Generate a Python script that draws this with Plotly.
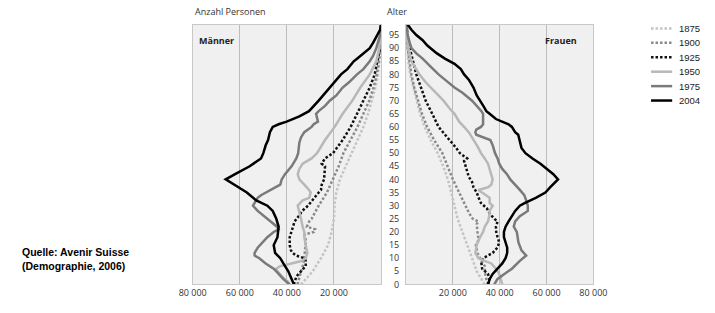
import plotly.graph_objects as go

years = ["1875", "1900", "1925", "1950", "1975", "2004"]
colors = ["#c3c3c3", "#8a8a8a", "#111111", "#b8b8b8", "#7a7a7a", "#000000"]
dashes = ["2.5px,2px", "2.5px,2px", "2.5px,2px", "solid", "solid", "solid"]

age_ticks = list(range(0, 100, 5))
count_ticks = [20000, 40000, 60000, 80000]
count_labels = ["20 000", "40 000", "60 000", "80 000"]

# ---- Männer ----
m1875_age = [0, 3, 5, 8, 10, 15, 20, 25, 30, 35, 40, 45, 50, 55, 60, 65, 70, 75, 80, 85, 90, 95, 99]
m1875 = [34000, 31000, 29000, 27000, 25500, 22500, 21000, 20000, 19800, 19000, 17500, 15000, 12500, 10000, 7500, 5500, 3800, 2400, 1300, 600, 200, 50, 0]

m1900_age = [0, 2, 4, 7, 10, 14, 17, 19, 20, 21, 22, 24, 25, 30, 35, 40, 45, 50, 55, 60, 65, 70, 75, 80, 85, 90, 95, 99]
m1900 = [35500, 35000, 34300, 33300, 32600, 32200, 32000, 32500, 28500, 28000, 31500, 30500, 29500, 26500, 23000, 20500, 18000, 16000, 13000, 10000, 7500, 5000, 3200, 1800, 900, 300, 50, 0]

m1925_age = [0, 1, 3, 5, 7, 9, 10, 11, 12, 13, 15, 18, 20, 22, 24, 26, 28, 30, 33, 35, 36, 38, 40, 43, 45, 46, 48, 50, 55, 60, 65, 70, 75, 80, 85, 90, 95, 99]
m1925 = [37000, 36700, 36000, 34000, 32000, 32000, 32600, 36000, 37500, 38300, 38800, 38800, 38000, 37400, 36700, 35000, 33500, 31000, 28500, 26500, 25500, 25200, 24200, 24000, 23800, 25200, 23800, 20400, 16300, 12900, 10200, 7500, 4800, 2700, 1400, 400, 100, 0]

m1950_age = [0, 1, 3, 5, 6, 7, 8, 9, 10, 12, 15, 18, 20, 22, 25, 28, 30, 32, 33, 35, 36, 38, 40, 42, 44, 46, 48, 50, 52, 55, 60, 65, 70, 75, 80, 85, 90, 95, 99]
m1950 = [38800, 39500, 42000, 44000, 44500, 42800, 38000, 33500, 32000, 31300, 32000, 32600, 32600, 33300, 34000, 34700, 35400, 33300, 30500, 29900, 30600, 32600, 34700, 35400, 34700, 33300, 29500, 27200, 25800, 23800, 19700, 16300, 12200, 8800, 4800, 2000, 700, 100, 0]

m1975_age = [0, 2, 4, 6, 8, 10, 11, 12, 14, 16, 18, 20, 21, 22, 24, 26, 28, 30, 31, 33, 34, 36, 38, 40, 42, 45, 48, 50, 52, 54, 56, 58, 60, 61, 62, 63, 65, 66, 68, 70, 72, 75, 77, 80, 82, 85, 87, 90, 92, 95, 99]
m1975 = [38800, 41500, 43500, 45600, 49000, 51700, 53700, 53700, 52400, 50300, 48300, 45600, 43500, 44200, 47000, 49600, 52400, 54400, 53700, 52400, 51000, 46900, 42800, 42200, 40800, 38000, 36000, 35200, 35000, 34700, 34000, 32600, 29500, 28600, 26800, 27000, 27600, 26500, 23800, 21800, 19000, 16300, 13600, 10200, 7500, 4800, 3400, 2000, 1400, 400, 0]

m2004_age = [0, 2, 5, 8, 10, 12, 15, 18, 20, 22, 25, 28, 30, 32, 35, 38, 40, 42, 45, 48, 50, 53, 55, 58, 60, 61, 62, 64, 66, 70, 75, 80, 82, 85, 86, 88, 90, 92, 95, 97, 99]
m2004 = [37000, 38000, 39400, 41500, 42800, 45000, 45600, 44000, 43800, 43500, 44500, 46000, 48300, 53000, 57000, 62600, 66000, 62000, 55800, 51000, 50000, 49000, 48000, 47200, 46000, 43500, 40100, 34700, 30600, 26500, 21800, 17000, 14300, 11600, 10200, 7500, 4800, 3400, 1400, 400, 0]

# ---- Frauen ----
f1875_age = [0, 5, 10, 15, 20, 25, 30, 35, 40, 45, 50, 55, 60, 65, 70, 75, 80, 85, 90, 95, 99]
f1875 = [33600, 30200, 28200, 26100, 24100, 22000, 20700, 19300, 17900, 15900, 13500, 10500, 8000, 6000, 4500, 3000, 1800, 1000, 500, 200, 0]

f1900_age = [0, 2, 5, 7, 10, 12, 15, 17, 20, 23, 24, 25, 27, 30, 35, 40, 45, 50, 55, 60, 65, 70, 75, 80, 85, 90, 95, 99]
f1900 = [35000, 34300, 33600, 33600, 31600, 30500, 29800, 31000, 30500, 30200, 30900, 28500, 27000, 25500, 22700, 20000, 17900, 15500, 12000, 9000, 6800, 5000, 3500, 2300, 1400, 700, 200, 0]

f1925_age = [0, 2, 4, 6, 8, 10, 11, 12, 14, 16, 18, 20, 22, 24, 25, 27, 29, 31, 33, 35, 37, 39, 41, 43, 45, 47, 48, 50, 52, 55, 60, 65, 70, 75, 80, 85, 90, 95, 99]
f1925 = [35000, 35700, 35000, 32500, 32200, 32900, 35000, 37000, 39000, 39800, 39100, 38500, 38400, 39100, 37700, 35700, 34500, 32000, 31000, 30200, 28800, 28200, 26800, 26100, 25500, 24800, 26100, 23000, 21400, 18600, 13900, 11200, 8400, 6400, 4400, 3000, 1600, 700, 0]

f1950_age = [0, 2, 4, 6, 8, 9, 10, 12, 15, 18, 20, 22, 24, 26, 28, 30, 31, 33, 35, 36, 37, 38, 40, 42, 44, 46, 48, 50, 52, 55, 58, 60, 62, 65, 67, 70, 72, 75, 77, 80, 82, 85, 90, 95, 99]
f1950 = [41100, 40500, 39800, 38400, 36400, 33600, 30900, 29600, 30200, 31600, 32900, 33600, 35000, 35500, 35700, 37000, 35700, 35700, 32200, 30900, 35000, 36400, 37000, 36400, 35700, 35000, 33600, 32000, 30900, 28800, 26800, 24800, 22700, 20700, 18600, 16000, 13900, 10500, 8400, 5700, 4400, 2300, 1000, 300, 0]

f1975_age = [0, 2, 4, 6, 9, 11, 13, 16, 20, 22, 24, 26, 28, 30, 32, 34, 36, 38, 40, 42, 44, 46, 48, 50, 53, 55, 56, 57, 58, 59, 60, 61, 63, 65, 66, 68, 70, 73, 75, 78, 80, 83, 85, 86, 88, 90, 92, 95, 99]
f1975 = [37700, 39000, 42000, 45200, 48600, 51300, 49300, 48000, 47300, 46000, 46600, 48600, 52000, 52000, 51300, 50500, 48600, 46600, 44500, 43100, 41100, 39800, 39100, 38000, 37000, 36000, 33000, 30000, 29600, 30000, 32000, 32900, 32900, 32900, 32200, 30200, 28200, 24100, 20700, 16600, 13900, 10500, 8400, 7100, 4400, 2300, 1600, 700, 300]

f2004_age = [0, 2, 4, 6, 8, 10, 12, 14, 16, 18, 20, 22, 24, 26, 28, 30, 31, 33, 35, 37, 39, 40, 42, 44, 46, 48, 50, 52, 55, 57, 58, 60, 61, 62, 63, 65, 66, 68, 70, 72, 75, 78, 80, 82, 84, 85, 86, 88, 90, 91, 93, 95, 97, 99]
f2004 = [35000, 35700, 37000, 39100, 41100, 42500, 43200, 43200, 42500, 41800, 41800, 42500, 43800, 45200, 46600, 48600, 50600, 55400, 59500, 61500, 63500, 64900, 62900, 60100, 57400, 54000, 51000, 49300, 48600, 47900, 46600, 45200, 43800, 41100, 38400, 35700, 34300, 33000, 31600, 30200, 28800, 26800, 24800, 23400, 20700, 18600, 16600, 13200, 10500, 9100, 7100, 4400, 2300, 700]

men = [(m1875_age, m1875), (m1900_age, m1900), (m1925_age, m1925),
       (m1950_age, m1950), (m1975_age, m1975), (m2004_age, m2004)]
women = [(f1875_age, f1875), (f1900_age, f1900), (f1925_age, f1925),
         (f1950_age, f1950), (f1975_age, f1975), (f2004_age, f2004)]

W, H = 715, 313
def px(x):
    return x / W
def py(y):
    return (H - y) / H

fig = go.Figure()
for i, yr in enumerate(years):
    a, v = men[i]
    fig.add_trace(go.Scatter(x=v, y=a, mode="lines", name=yr, xaxis="x", yaxis="y",
                             line=dict(color=colors[i], width=2.5, dash=dashes[i]),
                             showlegend=False, hoverinfo="skip"))
    a, v = women[i]
    fig.add_trace(go.Scatter(x=v, y=a, mode="lines", name=yr, xaxis="x2", yaxis="y2",
                             line=dict(color=colors[i], width=2.5, dash=dashes[i]),
                             showlegend=False, hoverinfo="skip"))

axfont = dict(family="Open Sans", size=9, color="#333333")
common_x = dict(showgrid=True, gridcolor="#bcbcbc", gridwidth=1, zeroline=False,
                showline=True, linecolor="#c8c8c8", linewidth=1, mirror=True,
                tickmode="array", tickvals=count_ticks, ticktext=count_labels,
                tickfont=axfont, ticks="", fixedrange=True)
common_y = dict(range=[0, 99], showgrid=False, zeroline=False, showline=True,
                linecolor="#c8c8c8", linewidth=1, mirror=True, fixedrange=True)

ybot, ytop = py(290), py(25)
fig.update_layout(
    width=W, height=H, margin=dict(l=0, r=0, t=0, b=0), autosize=False,
    paper_bgcolor="white", plot_bgcolor="#eff0ef",
    showlegend=False,
    xaxis=dict(domain=[px(186), px(382)], range=[80000, 0], anchor="y", **common_x),
    yaxis=dict(domain=[ybot, ytop], anchor="x", showticklabels=False, **common_y),
    xaxis2=dict(domain=[px(408), px(603)], range=[0, 80000], anchor="y2", **common_x),
    yaxis2=dict(domain=[ybot, ytop], anchor="x2", tickmode="array", tickvals=age_ticks,
                ticktext=[str(t) for t in age_ticks], tickfont=axfont, ticks="",
                ticklabelstandoff=4, **common_y),
)

ann = []
ann.append(dict(x=px(186), y=py(12), xref="paper", yref="paper", text="Anzahl Personen",
                showarrow=False, xanchor="left", yanchor="middle", font=axfont))
ann.append(dict(x=px(386), y=py(12), xref="paper", yref="paper", text="Alter",
                showarrow=False, xanchor="left", yanchor="middle", font=axfont))
ann.append(dict(x=px(190), y=py(41), xref="paper", yref="paper", text="<b>Männer</b>",
                showarrow=False, xanchor="left", yanchor="middle",
                font=dict(family="Open Sans", size=9, color="#222222")))
ann.append(dict(x=px(588), y=py(41), xref="paper", yref="paper", text="<b>Frauen</b>",
                showarrow=False, xanchor="right", yanchor="middle",
                font=dict(family="Open Sans", size=9, color="#222222")))
srcfont = dict(family="Liberation Sans", size=10.5, color="#000000")
ann.append(dict(x=px(6), y=py(257), xref="paper", yref="paper",
                text="<b>Quelle: Avenir Suisse</b>",
                showarrow=False, xanchor="left", yanchor="middle", font=srcfont))
ann.append(dict(x=px(6), y=py(271), xref="paper", yref="paper",
                text="<b>(Demographie, 2006)</b>",
                showarrow=False, xanchor="left", yanchor="middle", font=srcfont))

shapes = []
for i, yr in enumerate(years):
    yy = 29 + i * 14.7
    shapes.append(dict(type="line", xref="paper", yref="paper",
                       x0=px(663), x1=px(685), y0=py(yy), y1=py(yy),
                       line=dict(color=colors[i], width=2.5, dash=dashes[i])))
    ann.append(dict(x=px(690), y=py(yy), xref="paper", yref="paper", text=yr,
                    showarrow=False, xanchor="left", yanchor="middle",
                    font=dict(family="Liberation Sans", size=9.5, color="#222222")))

fig.update_layout(annotations=ann, shapes=shapes)
fig.write_html("out.html", config={"displayModeBar": False, "responsive": False},
               post_script="document.body.style.margin='0px';document.body.style.overflow='hidden';")
